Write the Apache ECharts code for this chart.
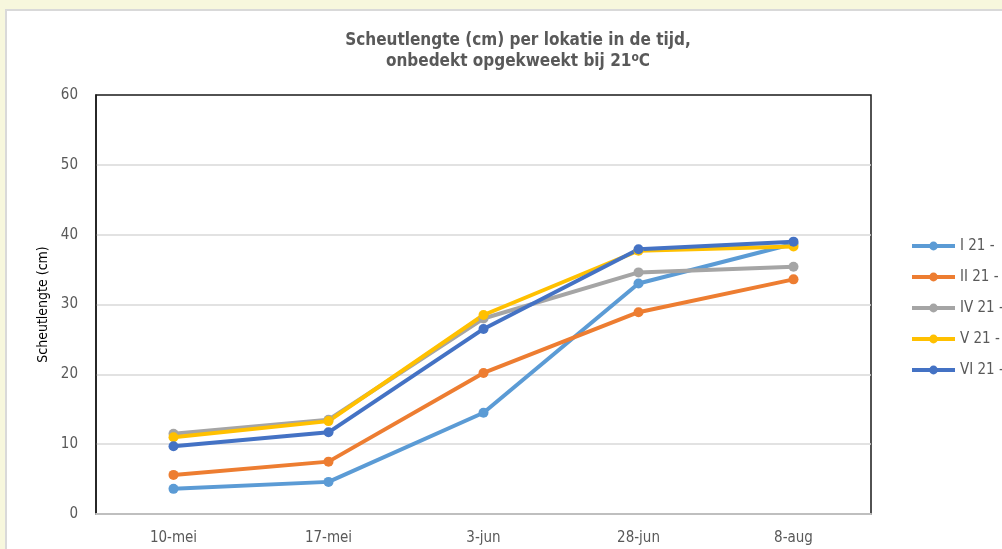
<!DOCTYPE html>
<html>
<head>
<meta charset="utf-8">
<script src="https://cdn.jsdelivr.net/npm/echarts@6/dist/echarts.min.js"></script>
<style>
  html, body { margin: 0; padding: 0; background: #f7f7dd; }
  #chart { width: 1002px; height: 549px; }
</style>
</head>
<body>
<div id="chart"></div>
<script>
const dates = ["10-mei", "17-mei", "3-jun", "28-jun", "8-aug"]
const seriesNames = ["I 21 -", "II 21 -", "IV 21 -", "V 21 -", "VI 21 -"]
const colors = ["#5b9bd5", "#ed7d31", "#a5a5a5", "#ffc000", "#4472c4"]

const loc1 = [3.6, 4.6, 14.5, 33.0, 38.7]
const loc2 = [5.6, 7.5, 20.2, 28.9, 33.6]
const loc4 = [11.5, 13.5, 28.0, 34.6, 35.4]
const loc5 = [11.0, 13.3, 28.5, 37.7, 38.3]
const loc6 = [9.7, 11.7, 26.5, 37.9, 39.0]
const values = [loc1, loc2, loc4, loc5, loc6]

const yTicks = [0, 10, 20, 30, 40, 50, 60]

const font = "'Liberation Sans Narrow', 'DejaVu Sans Condensed', 'Open Sans', sans-serif"

const chart = echarts.init(document.getElementById("chart"))

const option = {
  backgroundColor: "#f7f7dd",
  animation: false,
  textStyle: { fontFamily: font },
  graphic: [
    {
      type: "rect",
      z: -10,
      shape: { x: 6, y: 10, width: 1010, height: 560 },
      style: { fill: "#ffffff", stroke: "#d9d9d9", lineWidth: 2 }
    }
  ],
  title: {
    left: 513,
    textAlign: "center",
    top: 25,
    text: "{a|Scheutlengte (cm) per lokatie in de tijd,}\n{a|onbedekt opgekweekt bij 21}{s|o}{a|C}",
    textStyle: {
      rich: {
        a: { fontFamily: font, fontSize: 17, fontWeight: "bold", color: "#595959", lineHeight: 21 },
        s: { fontFamily: font, fontSize: 12, fontWeight: "bold", color: "#595959", lineHeight: 21, padding: [0, 0, 7, 0] }
      }
    }
  },
  legend: {
    orient: "vertical",
    left: 905,
    top: 233,
    itemWidth: 43,
    itemHeight: 11,
    itemGap: 15,
    data: seriesNames,
    lineStyle: { width: 4 },
    textStyle: { fontFamily: font, fontSize: 15, color: "#595959", lineHeight: 16 }
  },
  grid: {
    left: 96,
    right: 131,
    top: 95,
    bottom: 35,
    show: true,
    borderColor: "#1a1a1a",
    borderWidth: 1.5,
    backgroundColor: "#ffffff"
  },
  xAxis: {
    type: "category",
    data: dates,
    boundaryGap: true,
    axisLine: { lineStyle: { color: "#bfbfbf", width: 2 } },
    axisTick: { show: false },
    axisLabel: { fontFamily: font, fontSize: 15, color: "#595959", margin: 17 }
  },
  yAxis: {
    type: "value",
    min: yTicks[0],
    max: yTicks[yTicks.length - 1],
    interval: 10,
    name: "Scheutlengte (cm)",
    nameLocation: "middle",
    nameRotate: 90,
    nameGap: 46,
    nameTextStyle: { fontFamily: font, fontSize: 14, color: "#000000" },
    axisLine: { show: true, lineStyle: { color: "#1a1a1a", width: 1.5 } },
    axisTick: { show: false },
    axisLabel: { fontFamily: font, fontSize: 15, color: "#595959", margin: 18 },
    splitLine: { showMaxLine: false, lineStyle: { color: "#d9d9d9", width: 1.5 } }
  },
  series: seriesNames.map((name, i) => ({
    name: name,
    type: "line",
    data: values[i],
    symbol: "circle",
    symbolSize: 10,
    color: colors[i],
    lineStyle: { width: 4, color: colors[i] },
    itemStyle: { color: colors[i] }
  }))
}

chart.setOption(option)
</script>
</body>
</html>
